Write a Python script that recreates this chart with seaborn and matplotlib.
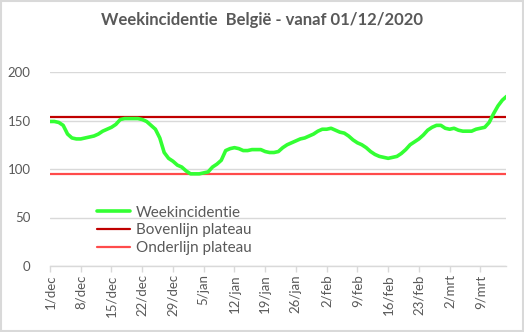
import matplotlib
matplotlib.use("Agg")
import matplotlib.pyplot as plt
import seaborn as sns
import pandas as pd
import numpy as np

# --- data ---------------------------------------------------------------
incidence = [149, 149, 148, 145, 136, 132, 131, 131, 132, 133,
             134, 136, 139, 141, 143, 146, 151, 152, 152, 152,
             152, 151, 149, 145, 141, 132, 117, 111, 108, 104,
             102, 98, 95, 95, 95, 96, 97, 102, 105, 109,
             119, 121, 122, 121, 119, 119, 120, 120, 120, 118,
             117, 117, 118, 122, 125, 127, 129, 131, 132, 134,
             136, 139, 141, 141, 142, 140, 138, 137, 134, 130,
             127, 125, 122, 118, 115, 113, 112, 111, 112, 113,
             116, 120, 125, 128, 131, 135, 140, 143, 145, 145,
             142, 141, 142, 140, 139, 139, 139, 141, 142, 143,
             148, 157, 165, 171, 175]
upper_plateau = 154
lower_plateau = 95
tick_labels = ["1/dec", "8/dec", "15/dec", "22/dec", "29/dec", "5/jan", "12/jan",
               "19/jan", "26/jan", "2/feb", "9/feb", "16/feb", "23/feb", "2/mrt", "9/mrt"]
y_ticks = [0, 50, 100, 150, 200]
title = "Weekincidentie  België - vanaf 01/12/2020"

dates = pd.date_range("2020-12-01", periods=len(incidence), freq="D")
df = pd.DataFrame({"datum": dates, "Weekincidentie": incidence})

# --- style --------------------------------------------------------------
sns.set_theme(style="white")
plt.rcParams["font.family"] = ["Lato", "DejaVu Sans"]
TXT = "#595959"
GRID = "#D9D9D9"

fig = plt.figure(figsize=(5.24, 3.32), dpi=100)
ax = fig.add_axes([50 / 524, 1 - 266 / 332, 456 / 524, 194 / 332])

sns.lineplot(data=df, x="datum", y="Weekincidentie", ax=ax, color="#33FF33",
             linewidth=2.6, label="Weekincidentie", zorder=3)
ax.axhline(upper_plateau, color="#C00000", linewidth=1.6, label="Bovenlijn plateau", zorder=2)
ax.axhline(lower_plateau, color="#FF4B4B", linewidth=1.6, label="Onderlijn plateau", zorder=2)

ax.set_ylim(0, 200)
ax.set_xlim(dates[0], dates[-1] + pd.Timedelta(hours=-4))
ax.set_yticks(y_ticks)
ax.set_yticklabels([str(v) for v in y_ticks], fontsize=9.5, color=TXT)
tick_dates = pd.date_range("2020-12-01", periods=len(tick_labels), freq="7D")
ax.set_xticks(tick_dates)
ax.set_xticklabels(tick_labels, rotation=90, fontsize=9.5, color=TXT)
ax.set_xlabel("")
ax.set_ylabel("")

ax.grid(axis="y", color=GRID, linewidth=1, zorder=0)
ax.grid(axis="x", visible=False)
for s in ["top", "right", "left"]:
    ax.spines[s].set_visible(False)
ax.spines["bottom"].set_color(GRID)
ax.spines["bottom"].set_linewidth(1)
ax.tick_params(axis="x", length=4, color=GRID, width=1, pad=2, direction="out", bottom=True)
ax.tick_params(axis="y", length=0, pad=14)

leg = ax.legend(loc="upper left", bbox_to_anchor=(89 / 524, 1 - 198 / 332),
                bbox_transform=fig.transFigure, frameon=False, fontsize=11,
                handlelength=2.2, handletextpad=0.35, labelspacing=0.25, borderpad=0)
for t in leg.get_texts():
    t.set_color(TXT)

fig.text(0.5, 1 - 20 / 332, title, ha="center", va="center", fontsize=12,
         fontweight="bold", color=TXT)

fig.patches.append(plt.Rectangle((0.001, 0.002), 0.997, 0.995, transform=fig.transFigure,
                                 fill=False, edgecolor=GRID, linewidth=1.5))

fig.savefig("out.png", dpi=100)
